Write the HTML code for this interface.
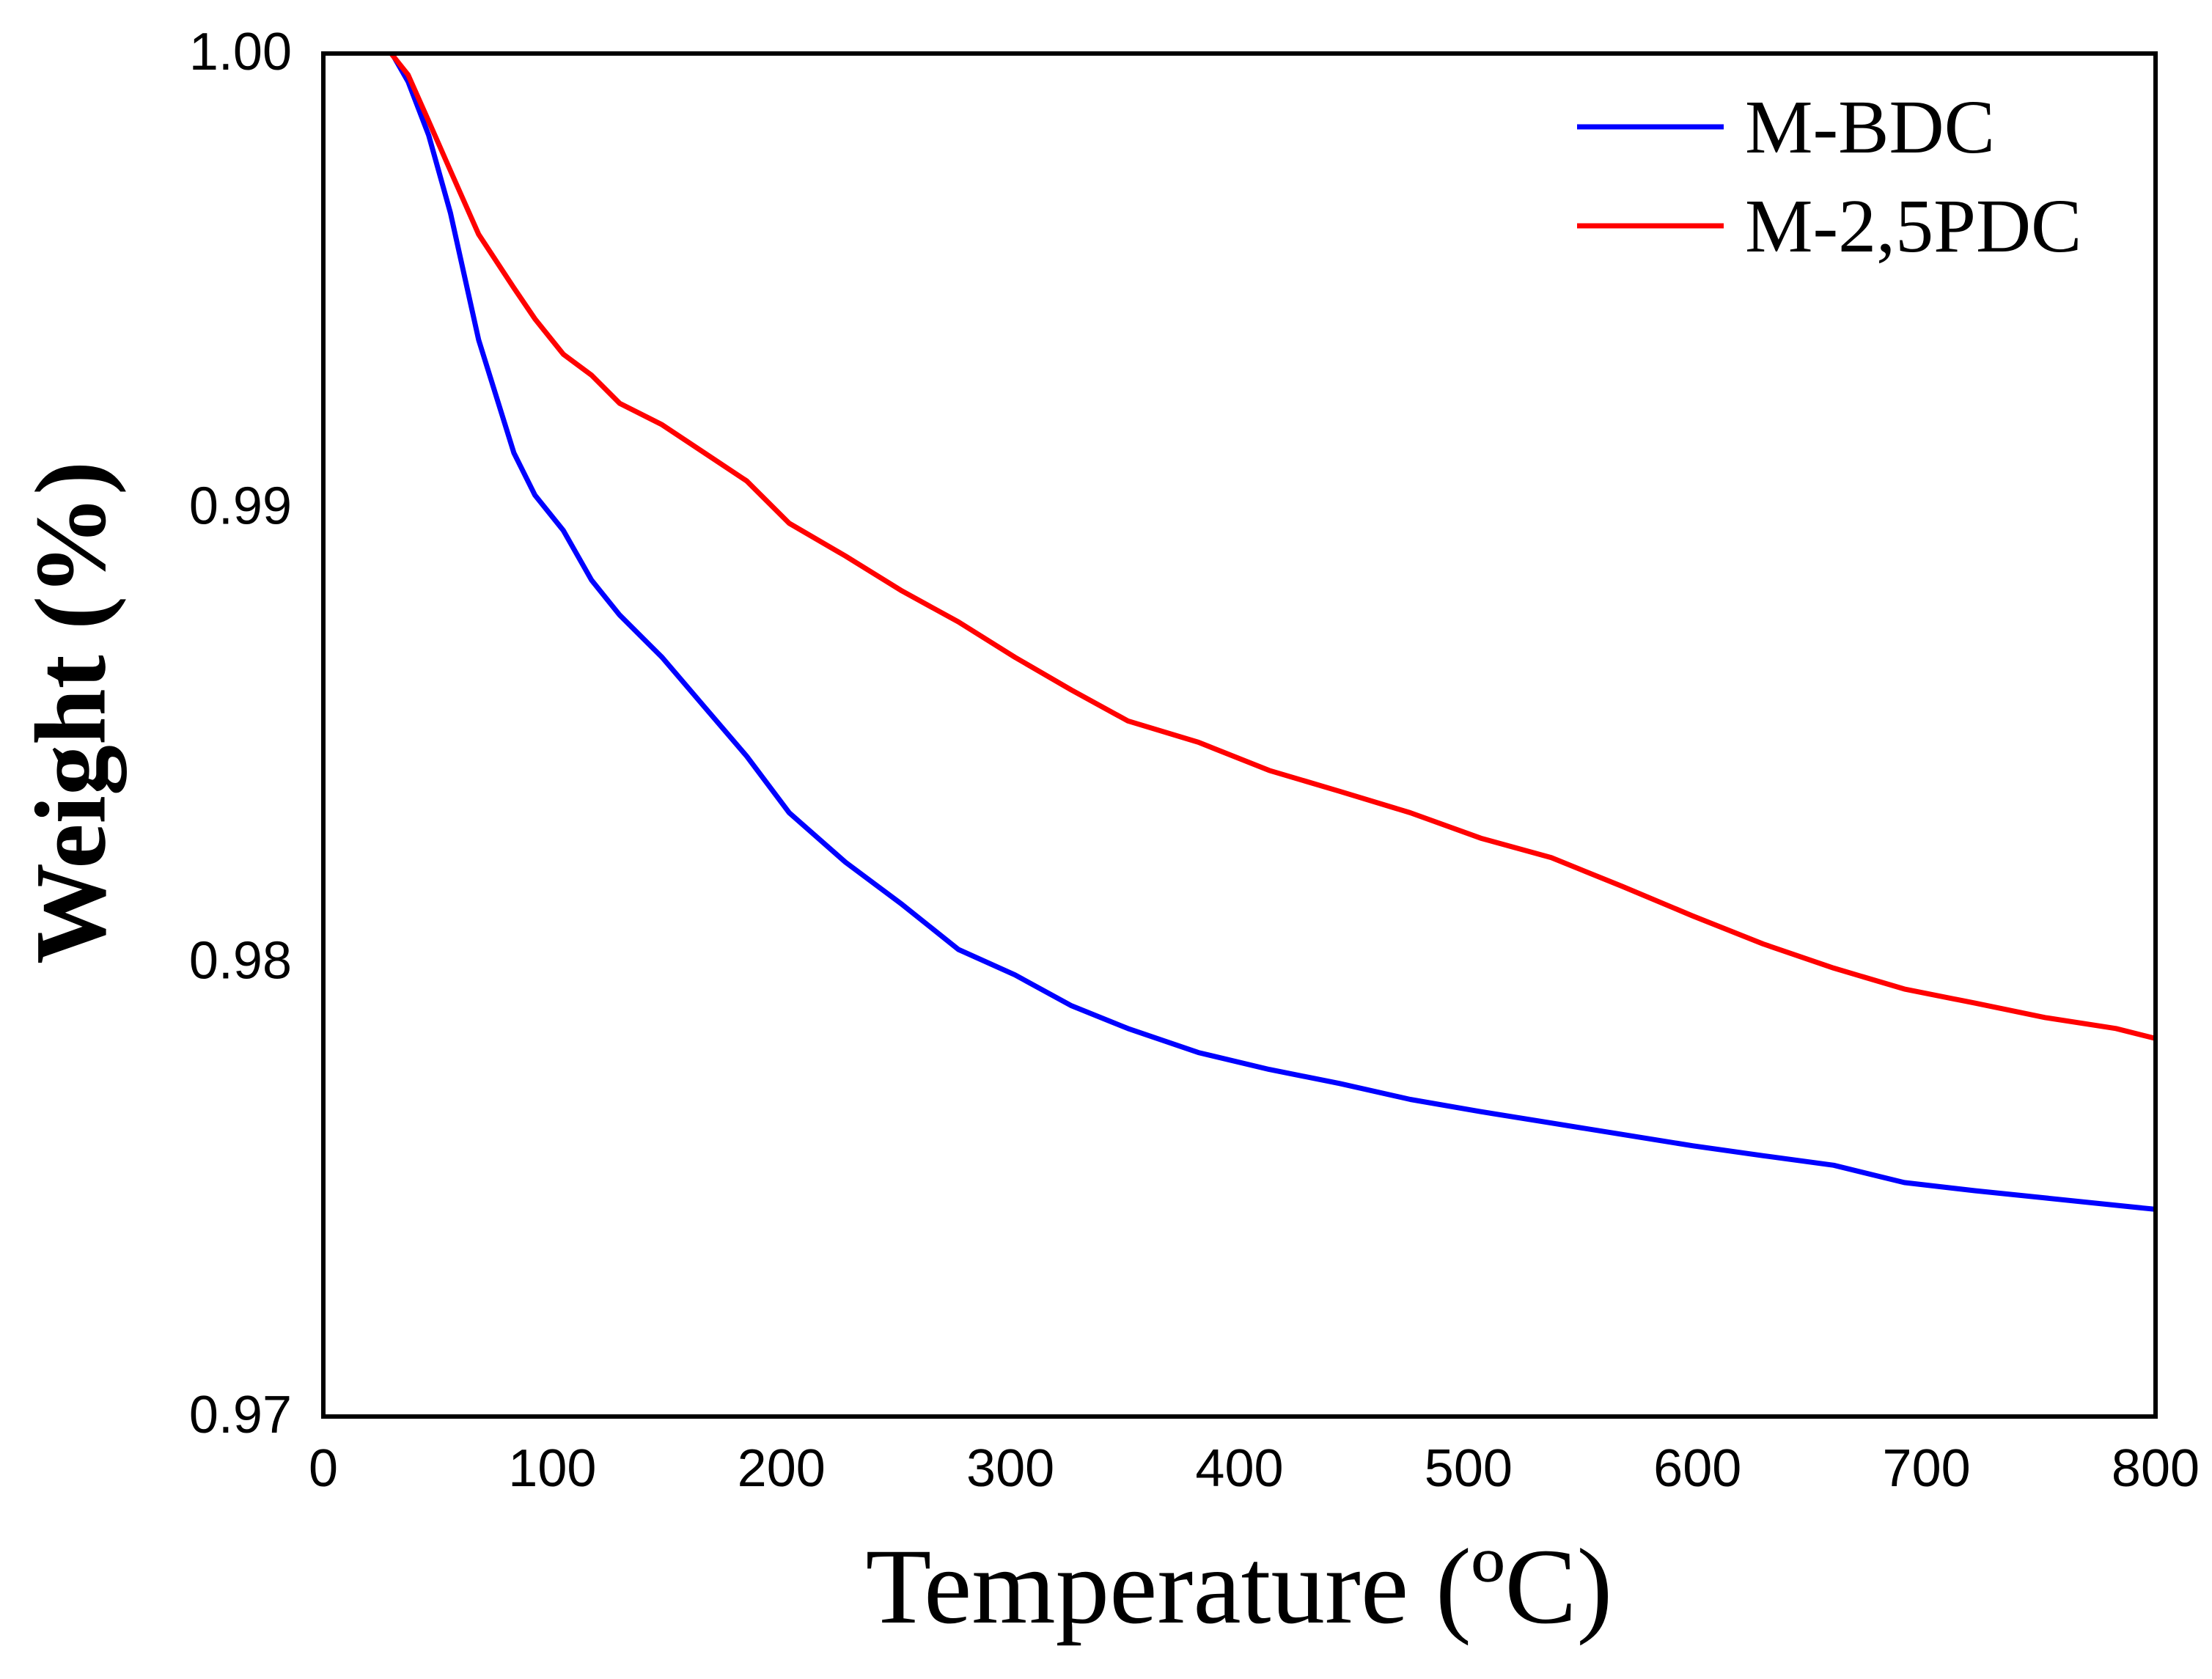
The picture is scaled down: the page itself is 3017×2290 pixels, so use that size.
<!DOCTYPE html>
<html><head><meta charset="utf-8"><style>html,body{margin:0;padding:0;background:#fff}svg{display:block}</style></head>
<body>
<svg id="chart" width="3017" height="2290" viewBox="0 0 3017 2290" xmlns="http://www.w3.org/2000/svg">
<rect x="0" y="0" width="3017" height="2290" fill="#fff"/>
<g id="ticks"></g>
<g id="series"></g>
<rect x="441" y="73" width="2499" height="1859" fill="none" stroke="#000" stroke-width="6"/>
<text x="96" y="972" transform="rotate(-90 96 972)" text-anchor="middle" dominant-baseline="central" font-family="Liberation Serif, serif" font-weight="bold" font-size="138">Weight (%)</text>
<text x="1690" y="2213" text-anchor="middle" font-family="Liberation Serif, serif" font-size="147">Temperature (ºC)</text>
<g>
<line x1="2151" y1="173" x2="2351" y2="173" stroke="#0000ff" stroke-width="7"/>
<text x="2380" y="208" font-family="Liberation Serif, serif" font-size="104">M-BDC</text>
<line x1="2151" y1="308" x2="2351" y2="308" stroke="#ff0000" stroke-width="7"/>
<text x="2380" y="343" font-family="Liberation Serif, serif" font-size="104">M-2,5PDC</text>
</g>
</svg>
<script>
const xTicks = [0,100,200,300,400,500,600,700,800];
const yTicks = [0.97,0.98,0.99,1.00];
const yTickLabels = ["0.97","0.98","0.99","1.00"];
const bdcT = [30,37,46,55.5,67.8,83.2,92.4,104.8,117.1,129.4,147.9,166.4,184.9,203.4,228,252.7,277.3,302,326.7,351.3,382.1,413,443.8,474.6,505.4,536.2,567,597.8,628.7,659.5,690.3,721.1,751.9,782.7,800];
const bdcW = [1.0,0.99938,0.99820,0.99649,0.99370,0.99121,0.99028,0.98950,0.98841,0.98764,0.98671,0.98562,0.98453,0.98329,0.98220,0.98127,0.98028,0.97972,0.97904,0.97854,0.97801,0.97764,0.97733,0.97698,0.97671,0.97646,0.97621,0.97596,0.97574,0.97553,0.97515,0.97497,0.97481,0.97465,0.97456];
const pdcT = [29.6,37,46,55.5,67.8,83.2,92.4,104.8,117.1,129.4,147.9,166.4,184.9,203.4,228,252.7,277.3,302,326.7,351.3,382.1,413,443.8,474.6,505.4,536.2,567,597.8,628.7,659.5,690.3,721.1,751.9,782.7,800];
const pdcW = [1.0,0.99953,0.99851,0.99742,0.99602,0.99484,0.99416,0.99338,0.99292,0.99230,0.99183,0.99121,0.99059,0.98966,0.98894,0.98817,0.98749,0.98671,0.98599,0.98531,0.98484,0.98422,0.98376,0.98329,0.98273,0.98230,0.98167,0.98102,0.98040,0.97987,0.97941,0.97910,0.97878,0.97854,0.97832];
const L=441,R=2940,T=73,B=1932;
function xs(v){return L+(v-0)/(800-0)*(R-L);}
function ys(v){return B-(v-0.97)/(1.00-0.97)*(B-T);}
const NS="http://www.w3.org/2000/svg";
const tg=document.getElementById('ticks');
xTicks.forEach(function(t){
  const e=document.createElementNS(NS,'text');
  e.setAttribute('x',xs(t));e.setAttribute('y',2027);
  e.setAttribute('text-anchor','middle');e.setAttribute('font-family','Liberation Sans, sans-serif');e.setAttribute('font-size','72');
  
  
  e.textContent=String(t);tg.appendChild(e);
});
yTicks.forEach(function(t,i){
  const e=document.createElementNS(NS,'text');
  e.setAttribute('x',398);e.setAttribute('y',ys(t)+22);
  e.setAttribute('text-anchor','end');e.setAttribute('font-family','Liberation Sans, sans-serif');e.setAttribute('font-size','72');
  
  
  e.textContent=yTickLabels[i];tg.appendChild(e);
});
const sg=document.getElementById('series');
function draw(ts,ws,color,name){
  const p=document.createElementNS(NS,'polyline');
  p.setAttribute('points',ts.map(function(t,i){return xs(t).toFixed(1)+','+ys(ws[i]).toFixed(1);}).join(' '));
  p.setAttribute('fill','none');p.setAttribute('stroke',color);p.setAttribute('stroke-width','7');p.setAttribute('stroke-linejoin','round');
  
  
  sg.appendChild(p);
}
draw(bdcT,bdcW,'#0000ff','series-m-bdc');
draw(pdcT,pdcW,'#ff0000','series-m-25pdc');
</script>
</body></html>
